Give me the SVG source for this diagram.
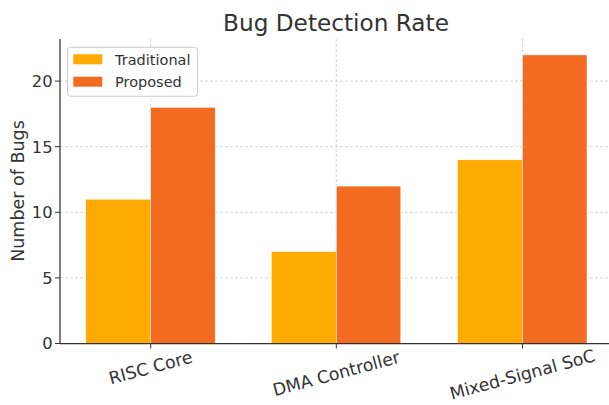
<svg xmlns="http://www.w3.org/2000/svg" width="609" height="405" viewBox="0 0 609 405">
<style>
text{font-family:"DejaVu Sans","Liberation Sans",sans-serif;fill:#333333}
.grid{stroke:#cccccc;stroke-width:0.8;stroke-dasharray:3,2;fill:none}
.trad{fill:#FFAA00;stroke:#ffffff;stroke-width:0.5}
.prop{fill:#F26B21;stroke:#ffffff;stroke-width:0.5}
.spine{stroke:#333333;stroke-width:1.25;fill:none}
.tick{font-size:16.3px;text-anchor:end}
.xl{font-size:17.3px;text-anchor:middle}
.leg{font-size:14.5px}
</style>
<rect width="609" height="405" fill="#ffffff"/>
<g id="grid">
<line class="grid" x1="60" y1="277.9" x2="609" y2="277.9"/>
<line class="grid" x1="60" y1="212.3" x2="609" y2="212.3"/>
<line class="grid" x1="60" y1="146.7" x2="609" y2="146.7"/>
<line class="grid" x1="60" y1="81.1" x2="609" y2="81.1"/>
<line class="grid" x1="150.7" y1="39" x2="150.7" y2="343.5"/>
<line class="grid" x1="336.3" y1="39" x2="336.3" y2="343.5"/>
<line class="grid" x1="522.5" y1="39" x2="522.5" y2="343.5"/>
</g>
<g id="bars">
<rect class="trad" x="85.7" y="199.2" width="65" height="144.3"/>
<rect class="prop" x="150.7" y="107.3" width="64.5" height="236.2"/>
<rect class="trad" x="271.3" y="251.7" width="65" height="91.8"/>
<rect class="prop" x="336.3" y="186.1" width="64.5" height="157.4"/>
<rect class="trad" x="457.5" y="159.8" width="65" height="183.7"/>
<rect class="prop" x="522.5" y="54.9" width="64.5" height="288.6"/>
</g>
<g id="axes">
<line class="spine" x1="60" y1="39" x2="60" y2="343.5"/>
<line class="spine" x1="60" y1="343.5" x2="609" y2="343.5"/>
<g stroke="#333333" stroke-width="1">
<line x1="55" y1="343.5" x2="60" y2="343.5"/>
<line x1="55" y1="277.9" x2="60" y2="277.9"/>
<line x1="55" y1="212.3" x2="60" y2="212.3"/>
<line x1="55" y1="146.7" x2="60" y2="146.7"/>
<line x1="55" y1="81.1" x2="60" y2="81.1"/>
<line x1="150.7" y1="343.5" x2="150.7" y2="348.5"/>
<line x1="336.3" y1="343.5" x2="336.3" y2="348.5"/>
<line x1="522.5" y1="343.5" x2="522.5" y2="348.5"/>
</g>
<text class="tick" x="52.5" y="349.4">0</text>
<text class="tick" x="52.5" y="283.8">5</text>
<text class="tick" x="52.5" y="218.2">10</text>
<text class="tick" x="52.5" y="152.6">15</text>
<text class="tick" x="52.5" y="87">20</text>
<text class="xl" transform="translate(150.7,368) rotate(-15)" y="5.5">RISC Core</text>
<text class="xl" transform="translate(336.3,374) rotate(-15)" y="5.5">DMA Controller</text>
<text class="xl" transform="translate(522.5,375) rotate(-15)" y="5.5">Mixed-Signal SoC</text>
<text transform="translate(23.5,191) rotate(-90)" text-anchor="middle" font-size="17.5">Number of Bugs</text>
<text x="336" y="30.7" text-anchor="middle" font-size="23.2">Bug Detection Rate</text>
</g>
<g id="legend">
<rect x="67.5" y="47.3" width="130" height="49" rx="3" fill="#ffffff" fill-opacity="0.8" stroke="#cccccc" stroke-width="1"/>
<rect x="73.3" y="54.3" width="29" height="10" fill="#FFAA00"/>
<rect x="73.3" y="76.7" width="29" height="10" fill="#F26B21"/>
<text class="leg" x="115" y="65.3">Traditional</text>
<text class="leg" x="115" y="87.3">Proposed</text>
</g>
</svg>
